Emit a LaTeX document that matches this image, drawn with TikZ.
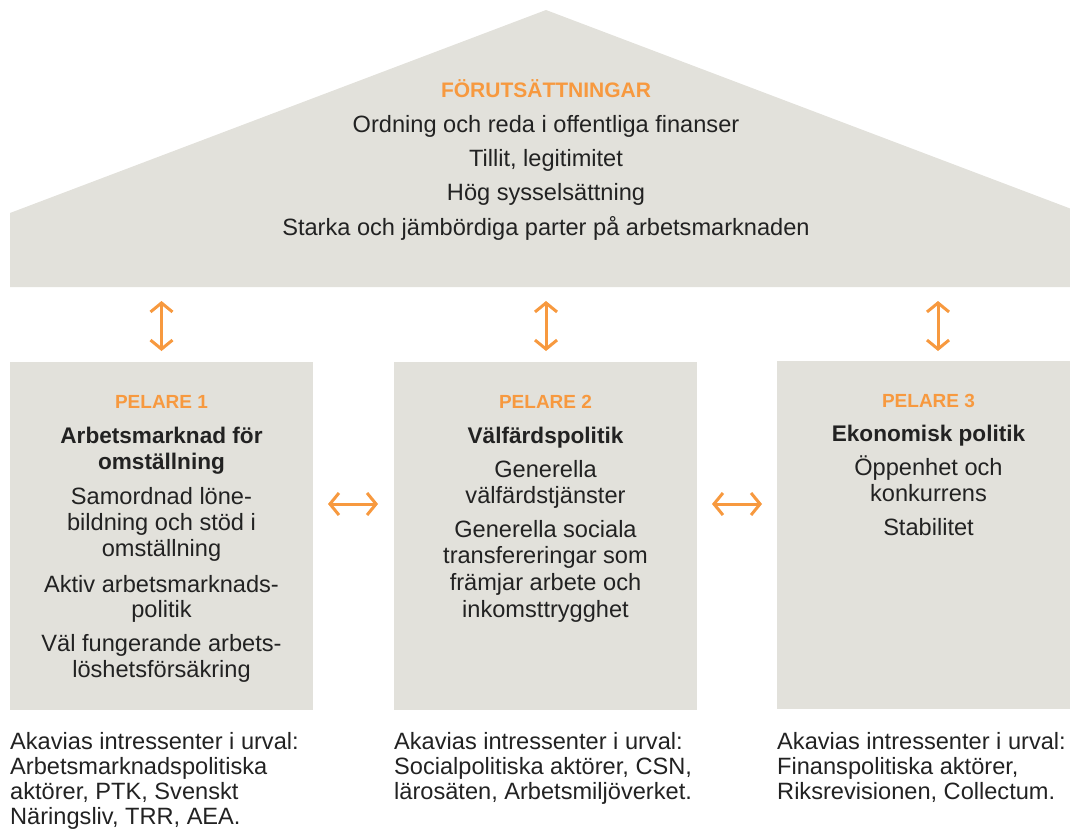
\documentclass[tikz,border=0pt]{standalone}
\usepackage{fontspec}
\setmainfont{Liberation Sans}
\usetikzlibrary{arrows.meta}
\definecolor{panelgray}{HTML}{E2E1DB}
\definecolor{accent}{HTML}{F7993F}
\definecolor{ink}{HTML}{222222}
\tikzset{
  roofshape/.style={fill=panelgray, draw=none},
  pillarbox/.style={fill=panelgray, draw=none, minimum width=303pt, minimum height=348pt, inner sep=0pt},
  txt/.style={anchor=base, inner sep=0pt, text=ink, font=\fontsize{23.6}{26}\selectfont},
  sub/.style={anchor=base, inner sep=0pt, text=ink, font=\bfseries\fontsize{22.6}{26}\selectfont},
  head/.style={anchor=base, inner sep=0pt, text=accent, font=\bfseries\fontsize{19}{22}\selectfont},
  roofhead/.style={head, font=\bfseries\fontsize{21}{24}\selectfont},
  note/.style={anchor=base west, inner sep=0pt, text=ink, font=\fontsize{23.6}{25}\selectfont},
  link/.style={draw=accent, line width=3pt, {Straight Barb[length=9pt,width=22pt]}-{Straight Barb[length=9pt,width=22pt]}}
}
\begin{document}
\begin{tikzpicture}[x=1pt,y=-1pt]
\useasboundingbox (0,0) rectangle (1070,832);
\clip (0,0) rectangle (1070,832);
% roof
\path[roofshape] (10,287) -- (10,213) -- (546,10) -- (1082,213) -- (1082,287) -- cycle;
\node[roofhead] (rh) at (546,97.5) {FÖRUTSÄTTNINGAR};
\node[txt] (r1) at (546,132) {Ordning och reda i offentliga finanser};
\node[txt] (r2) at (546,166.5) {Tillit, legitimitet};
\node[txt] (r3) at (546,200.5) {Hög sysselsättning};
\node[txt] (r4) at (546,235) {Starka och jämbördiga parter på arbetsmarknaden};
% pillars
\node[pillarbox] (p1) at (161.5,536) {};
\node[pillarbox] (p2) at (545.5,536) {};
\node[pillarbox] (p3) at (928.5,535) {};
% pillar 1
\node[head] (p1h) at (161.5,408.5) {PELARE 1};
\node[sub] (p1s1) at (161.5,443.5) {Arbetsmarknad för};
\node[sub] (p1s2) at (161.5,469.5) {omställning};
\node[txt] (p1a) at (161.5,504) {Samordnad löne-};
\node[txt] (p1b) at (161.5,530) {bildning och stöd i};
\node[txt] (p1c) at (161.5,556) {omställning};
\node[txt] (p1d) at (161.5,592) {Aktiv arbetsmarknads-};
\node[txt] (p1e) at (161.5,617.5) {politik};
\node[txt] (p1f) at (161.5,651) {Väl fungerande arbets-};
\node[txt] (p1g) at (161.5,677) {löshetsförsäkring};
% pillar 2
\node[head] (p2h) at (545.5,408.5) {PELARE 2};
\node[sub] (p2s1) at (545.5,443.5) {Välfärdspolitik};
\node[txt] (p2a) at (545.5,477) {Generella};
\node[txt] (p2b) at (545.5,503.5) {välfärdstjänster};
\node[txt] (p2c) at (545.5,537) {Generella sociala};
\node[txt] (p2d) at (545.5,563.5) {transfereringar som};
\node[txt] (p2e) at (545.5,590.5) {främjar arbete och};
\node[txt] (p2f) at (545.5,617.5) {inkomsttrygghet};
% pillar 3
\node[head] (p3h) at (928.5,407.5) {PELARE 3};
\node[sub] (p3s1) at (928.5,441) {Ekonomisk politik};
\node[txt] (p3a) at (928.5,475) {Öppenhet och};
\node[txt] (p3b) at (928.5,501) {konkurrens};
\node[txt] (p3c) at (928.5,535.5) {Stabilitet};
% notes
\node[note] (n1a) at (10,749) {Akavias intressenter i urval:};
\node[note] (n1b) at (10,774) {Arbetsmarknadspolitiska};
\node[note] (n1c) at (10,799.5) {aktörer, PTK, Svenskt};
\node[note] (n1d) at (10,824.5) {Näringsliv, TRR, AEA.};
\node[note] (n2a) at (394,749) {Akavias intressenter i urval:};
\node[note] (n2b) at (394,774) {Socialpolitiska aktörer, CSN,};
\node[note] (n2c) at (394,799.5) {lärosäten, Arbetsmiljöverket.};
\node[note] (n3a) at (777,749) {Akavias intressenter i urval:};
\node[note] (n3b) at (777,774) {Finanspolitiska aktörer,};
\node[note] (n3c) at (777,799.5) {Riksrevisionen, Collectum.};
% arrow ends
\coordinate (v1t) at (161.5,301);
\coordinate (v1b) at (161.5,351);
\coordinate (v2t) at (546,301);
\coordinate (v2b) at (546,351);
\coordinate (v3t) at (938,301);
\coordinate (v3b) at (938,351);
\coordinate (h1l) at (328,504);
\coordinate (h1r) at (378,504);
\coordinate (h2l) at (712,504);
\coordinate (h2r) at (762,504);
\draw[link] (v1t) -- (v1b);
\draw[link] (v2t) -- (v2b);
\draw[link] (v3t) -- (v3b);
\draw[link] (h1l) -- (h1r);
\draw[link] (h2l) -- (h2r);
\end{tikzpicture}
\end{document}
